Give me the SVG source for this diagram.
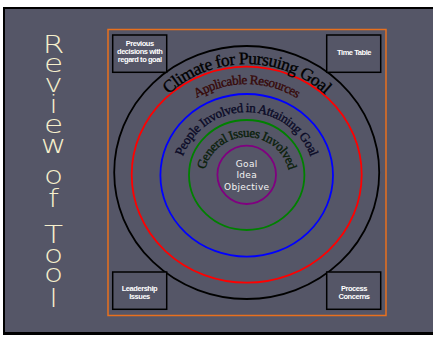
<svg xmlns="http://www.w3.org/2000/svg" width="433" height="339" viewBox="0 0 433 339">
<style>
.box{fill:#555667;stroke:#000;stroke-width:1.5}
.ring{fill:none;stroke-width:1.8}
.small{font-family:"Liberation Sans",Arial,sans-serif;font-weight:bold;font-size:7.5px;letter-spacing:-0.45px;fill:#ffffff;text-anchor:middle}
.arc{font-family:"Liberation Serif","Times New Roman",serif;text-anchor:middle;stroke-width:0.35px}
.title{font-family:"DejaVu Sans",sans-serif;font-weight:200;font-size:24px;fill:#f6efcc;text-anchor:middle}
.center{font-family:"DejaVu Sans",sans-serif;font-size:9px;fill:#f2f2f2;text-anchor:middle;letter-spacing:0.3px}
</style>
<defs>
<path id="pClimate" d="M130.7,180 A116,116 0 0 1 362.7,180"/>
<path id="pApplic" d="M150.7,180 A96,96 0 0 1 342.7,180"/>
<path id="pPeople" d="M178.7,180 A68,68 0 0 1 314.7,180"/>
<path id="pGeneral" d="M203.7,180 A43,43 0 0 1 289.7,180"/>
</defs>
<rect x="0" y="0" width="433" height="339" fill="#ffffff"/>
<rect x="3" y="7" width="430" height="328" fill="#000000"/>
<rect x="5" y="9" width="428" height="323" fill="#555667"/>

<g id="title">
<g transform="translate(53.5,0) scale(1.3,1)">
<text class="title" x="0" y="53">R</text>
<text class="title" x="0" y="72">e</text>
<text class="title" x="0" y="92">v</text>
<text class="title" x="0" y="113">i</text>
<text class="title" x="0" y="133">e</text>
<text class="title" x="0" y="153">w</text>
<text class="title" x="0" y="184">o</text>
<text class="title" x="0" y="207">f</text>
<text class="title" x="0" y="243">T</text>
<text class="title" x="0" y="263">o</text>
<text class="title" x="0" y="282">o</text>
<text class="title" x="0" y="307">l</text>
</g>
</g>

<rect id="frame" x="108" y="29.5" width="278" height="286" fill="none" stroke="#e8701e" stroke-width="1.5"/>

<g id="rings">
<ellipse class="ring" cx="246.7" cy="172.5" rx="132.5" ry="126.5" stroke="#000000"/>
<ellipse class="ring" cx="246.7" cy="174.7" rx="115" ry="108" stroke="#ff0000"/>
<ellipse class="ring" cx="246.7" cy="175.3" rx="86.3" ry="81.3" stroke="#0000ff"/>
<ellipse class="ring" cx="246.7" cy="175" rx="57.7" ry="55" stroke="#008000"/>
<ellipse class="ring" cx="246.7" cy="174.8" rx="29.3" ry="29.2" stroke="#800080"/>
</g>

<g id="arc-labels">
<text class="arc" font-size="17.5" letter-spacing="-0.55" fill="#000000" stroke="#000000"><textPath href="#pClimate" startOffset="50%">Climate for Pursuing Goal</textPath></text>
<text class="arc" font-size="13.2" letter-spacing="-0.5" fill="#360808" stroke="#360808"><textPath href="#pApplic" startOffset="50%">Applicable Resources</textPath></text>
<text class="arc" font-size="13" letter-spacing="-0.4" fill="#0a0a26" stroke="#0a0a26"><textPath href="#pPeople" startOffset="50%">People Involved in Attaining Goal</textPath></text>
<text class="arc" font-size="13" letter-spacing="-0.5" fill="#0a200a" stroke="#0a200a"><textPath href="#pGeneral" startOffset="50%">General Issues Involved</textPath></text>
</g>

<g id="goal">
<text class="center" x="246.7" y="167">Goal</text>
<text class="center" x="246.7" y="178">Idea</text>
<text class="center" x="246.7" y="189.5">Objective</text>
</g>

<g id="previous">
<rect class="box" x="112.7" y="35" width="54" height="37.3"/>
<text class="small" x="139.7" y="45.5">Previous</text>
<text class="small" x="139.7" y="54">decisions with</text>
<text class="small" x="139.7" y="61.5">regard to goal</text>
</g>
<g id="timetable">
<rect class="box" x="326.7" y="35" width="54" height="37.3"/>
<text class="small" x="354" y="54.5">Time Table</text>
</g>
<g id="leadership">
<rect class="box" x="112.7" y="272" width="54" height="37.3"/>
<text class="small" x="139.5" y="291">Leadership</text>
<text class="small" x="139.5" y="299">Issues</text>
</g>
<g id="process">
<rect class="box" x="326.7" y="272" width="54" height="37.3"/>
<text class="small" x="354" y="291">Process</text>
<text class="small" x="354" y="299">Concerns</text>
</g>
</svg>
